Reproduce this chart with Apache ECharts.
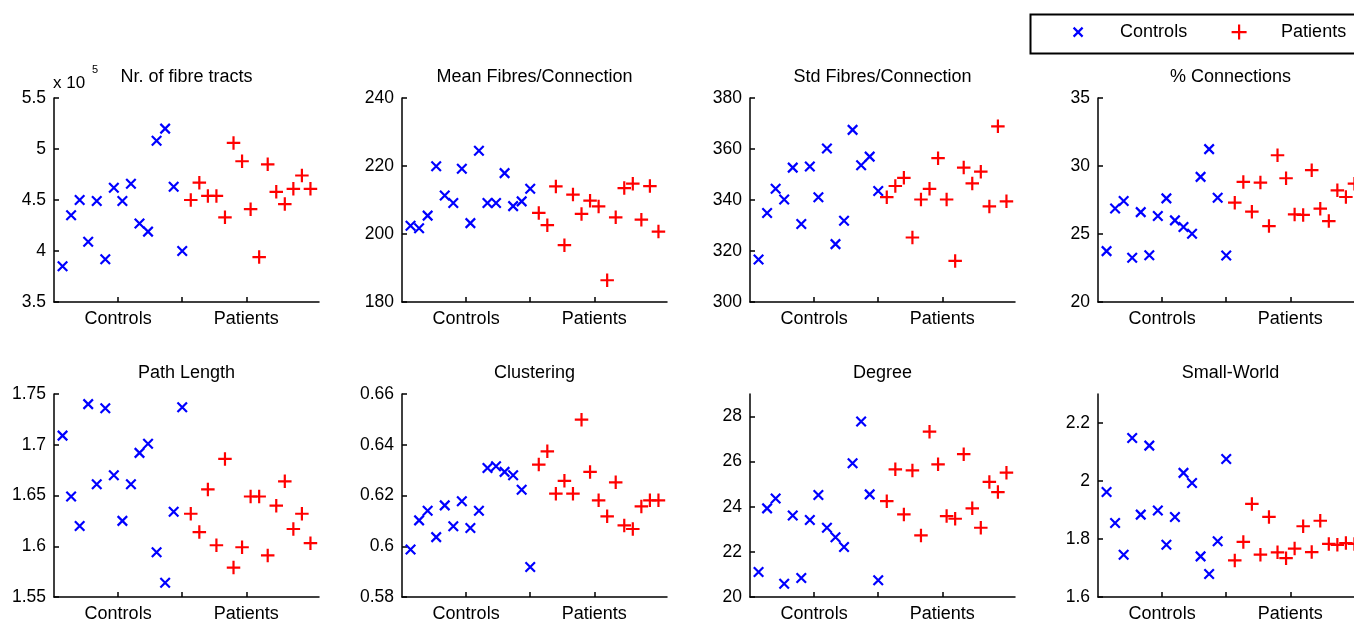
<!DOCTYPE html>
<html>
<head>
<meta charset="utf-8">
<script src="https://cdn.jsdelivr.net/npm/echarts@6/dist/echarts.min.js"></script>
<style>
  html, body {margin: 0; background: #fff;}
  #main {width: 1354px; height: 623px;}
</style>
</head>
<body>
<div id="main"></div>
<script>
const FONT = '"Liberation Sans", Arial, sans-serif';
const BLUE = '#0000ff';
const RED = '#ff0000';

// subjects 1..15 are controls, 16..30 patients
const groupLabels = ['Controls', 'Patients'];

// Nr. of fibre tracts (x 10^5)
const fibreTractsControls = [3.85, 4.35, 4.50, 4.09, 4.49, 3.92, 4.62, 4.49, 4.66, 4.27, 4.19, 5.08, 5.20, 4.63, 4.00];
const fibreTractsPatients = [4.50, 4.67, 4.54, 4.54, 4.33, 5.06, 4.88, 4.41, 3.94, 4.85, 4.58, 4.46, 4.61, 4.74, 4.61];

const meanFibresControls = [202.4, 201.7, 205.4, 219.9, 211.3, 209.1, 219.2, 203.2, 224.5, 209.1, 209.1, 217.9, 208.2, 209.6, 213.3];
const meanFibresPatients = [206.2, 202.6, 214.0, 196.7, 211.6, 205.9, 209.8, 208.1, 186.4, 204.9, 213.5, 214.8, 204.2, 214.1, 200.7];

const stdFibresControls = [316.7, 334.9, 344.4, 340.2, 352.7, 330.6, 353.1, 341.1, 360.2, 322.7, 331.9, 367.5, 353.6, 357.0, 343.5];
const stdFibresPatients = [341.1, 345.5, 348.7, 325.3, 340.2, 344.4, 356.4, 340.2, 316.1, 352.7, 346.5, 351.1, 337.5, 368.9, 339.5];

const connectionsControls = [23.74, 26.88, 27.43, 23.25, 26.61, 23.44, 26.32, 27.62, 26.0, 25.51, 25.02, 29.2, 31.24, 27.67, 23.42];
const connectionsPatients = [27.3, 28.83, 26.64, 28.78, 25.58, 30.79, 29.1, 26.44, 26.4, 29.69, 26.86, 25.95, 28.21, 27.72, 28.7];

const pathLengthControls = [1.709, 1.649, 1.620, 1.740, 1.661, 1.736, 1.670, 1.625, 1.661, 1.692, 1.701, 1.594, 1.564, 1.634, 1.737];
const pathLengthPatients = [1.632, 1.614, 1.656, 1.601, 1.686, 1.579, 1.599, 1.649, 1.649, 1.591, 1.640, 1.664, 1.617, 1.632, 1.603];

const clusteringControls = [0.5987, 0.6102, 0.6140, 0.6036, 0.6161, 0.6079, 0.6177, 0.6072, 0.6140, 0.6308, 0.6315, 0.6293, 0.6280, 0.6223, 0.5918];
const clusteringPatients = [0.6322, 0.6374, 0.6207, 0.6258, 0.6207, 0.6499, 0.6293, 0.6181, 0.6118, 0.6252, 0.6082, 0.6068, 0.6157, 0.6181, 0.6181];

const degreeControls = [21.11, 23.93, 24.37, 20.59, 23.61, 20.84, 23.41, 24.52, 23.07, 22.65, 22.22, 25.93, 27.78, 24.55, 20.74];
const degreePatients = [24.25, 25.66, 23.66, 25.61, 22.73, 27.33, 25.88, 23.59, 23.47, 26.33, 23.93, 23.07, 25.1, 24.65, 25.51];

const smallWorldControls = [1.962, 1.855, 1.746, 2.148, 1.884, 2.122, 1.898, 1.780, 1.876, 2.028, 1.993, 1.740, 1.679, 1.792, 2.076];
const smallWorldPatients = [1.726, 1.790, 1.921, 1.746, 1.876, 1.754, 1.734, 1.767, 1.844, 1.755, 1.863, 1.783, 1.780, 1.786, 1.783];

const titles = ['Nr. of fibre tracts', 'Mean Fibres/Connection', 'Std Fibres/Connection', '% Connections',
                'Path Length', 'Clustering', 'Degree', 'Small-World'];

// y tick labels per panel, plus the top of each axis
const fibreTractsTicks = [3.5, 4, 4.5, 5, 5.5];
const meanFibresTicks = [180, 200, 220, 240];
const stdFibresTicks = [300, 320, 340, 360, 380];
const connectionsTicks = [20, 25, 30, 35];
const pathLengthTicks = [1.55, 1.6, 1.65, 1.7, 1.75];
const clusteringTicks = [0.58, 0.6, 0.62, 0.64, 0.66];
const degreeTicks = [20, 22, 24, 26, 28];
const smallWorldTicks = [1.6, 1.8, 2, 2.2];
const yMax = [5.5, 240, 380, 35, 1.75, 0.66, 29, 2.3];

const panels = [
  [fibreTractsControls, fibreTractsPatients, fibreTractsTicks],
  [meanFibresControls, meanFibresPatients, meanFibresTicks],
  [stdFibresControls, stdFibresPatients, stdFibresTicks],
  [connectionsControls, connectionsPatients, connectionsTicks],
  [pathLengthControls, pathLengthPatients, pathLengthTicks],
  [clusteringControls, clusteringPatients, clusteringTicks],
  [degreeControls, degreePatients, degreeTicks],
  [smallWorldControls, smallWorldPatients, smallWorldTicks]
];

const xMark = 'path://M0,0L10,10M10,0L0,10';
const plusMark = 'path://M5,0L5,10M0,5L10,5';
// legend icons: full 74x18 box so the mark sits in the middle
const xLegend = 'path://M0,0M74,18M32.5,4.5L41.5,13.5M41.5,4.5L32.5,13.5';
const plusLegend = 'path://M0,0M74,18M29.5,9L44.5,9M37,1.5L37,16.5';

const lefts = [54, 402, 750, 1098];
const tops = [98, 394];
const W = 265, H = 204;
const axisColor = {color: '#000', width: 1.5};

const grid = [], xAxis = [], yAxis = [], series = [], title = [];

panels.forEach(([controls, patients, ticks], i) => {
  const left = lefts[i % 4];
  const top = tops[Math.floor(i / 4)];
  grid.push({left: left, top: top, width: W, height: H - (i >= 4 ? 1 : 0), outerBoundsMode: 'none'});
  xAxis.push({
    gridIndex: i, type: 'value', min: 0, max: 31,
    axisLine: {lineStyle: axisColor},
    axisTick: {inside: true, length: 5, customValues: [7.5, 15, 22.5], lineStyle: axisColor},
    axisLabel: {
      customValues: [7.5, 22.5],
      formatter: v => v < 15 ? groupLabels[0] : groupLabels[1],
      color: '#000', fontSize: 18, fontFamily: FONT, margin: 8
    },
    splitLine: {show: false}
  });
  yAxis.push({
    gridIndex: i, type: 'value', min: ticks[0], max: yMax[i],
    axisLine: {show: true, onZero: false, lineStyle: axisColor},
    axisTick: {show: true, inside: true, length: 5, customValues: ticks, lineStyle: axisColor},
    axisLabel: {customValues: ticks, color: '#000', fontSize: 17.5, fontFamily: FONT, margin: 8},
    splitLine: {show: false}
  });
  title.push({
    text: titles[i], left: left + W / 2, top: i < 4 ? 68 : 364, textAlign: 'center', padding: 0,
    textStyle: {fontSize: 18, fontWeight: 'normal', color: '#000', fontFamily: FONT}
  });
  series.push({
    name: groupLabels[0], type: 'scatter', xAxisIndex: i, yAxisIndex: i,
    symbol: xMark, symbolSize: 9.5,
    itemStyle: {color: BLUE, borderColor: BLUE, borderWidth: 2.2, opacity: 1},
    data: controls.map((v, k) => [k + 1, v])
  });
  series.push({
    name: groupLabels[1], type: 'scatter', xAxisIndex: i, yAxisIndex: i,
    symbol: plusMark, symbolSize: 13.5,
    itemStyle: {color: RED, borderColor: RED, borderWidth: 2.2, opacity: 1},
    data: patients.map((v, k) => [k + 16, v])
  });
});

const legendBase = {
  top: 22, padding: 0, itemWidth: 74, itemHeight: 18, itemGap: 0,
  selectedMode: false,
  textStyle: {fontSize: 18, color: '#000', fontFamily: FONT}
};

const chart = echarts.init(document.getElementById('main'));
chart.setOption({
  animation: false,
  backgroundColor: '#fff',
  title: title,
  grid: grid,
  xAxis: xAxis,
  yAxis: yAxis,
  legend: [
    Object.assign({}, legendBase, {
      left: 1040,
      data: [{name: groupLabels[0], icon: xLegend, itemStyle: {color: BLUE, borderColor: BLUE, borderWidth: 2.2}}]
    }),
    Object.assign({}, legendBase, {
      left: 1201,
      data: [{name: groupLabels[1], icon: plusLegend, itemStyle: {color: RED, borderColor: RED, borderWidth: 2.2}}]
    })
  ],
  graphic: [
    {type: 'rect', left: 1028, top: 12, shape: {width: 360, height: 39},
     style: {fill: 'none', stroke: '#000', lineWidth: 2}},
    {type: 'text', left: 53, top: 75, style: {text: 'x 10', fill: '#000', font: '17px ' + FONT}},
    {type: 'text', left: 92, top: 64, style: {text: '5', fill: '#000', font: '11px ' + FONT}}
  ],
  series: series
});
</script>
</body>
</html>
